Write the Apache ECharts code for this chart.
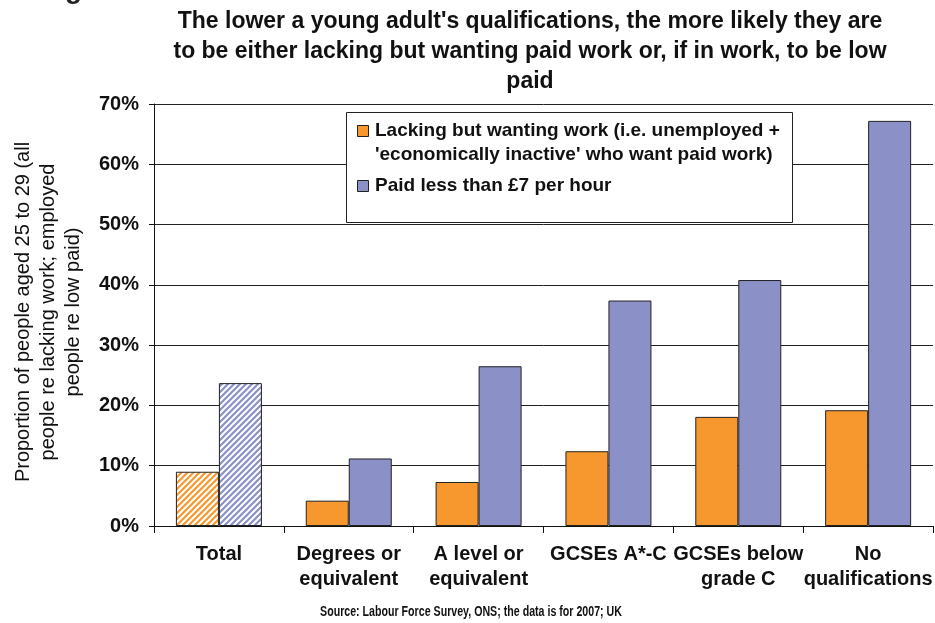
<!DOCTYPE html>
<html>
<head>
<meta charset="utf-8">
<script src="https://cdn.jsdelivr.net/npm/echarts@6/dist/echarts.min.js"></script>
<style>
  html, body { margin: 0; padding: 0; background: #fff; }
  #chart { width: 935px; height: 623px; }
</style>
</head>
<body>
<div id="chart"></div>
<script>
const categories = [
  'Total',
  'Degrees or\nequivalent',
  'A level or\nequivalent',
  'GCSEs A*-C',
  'GCSEs below\ngrade C',
  'No\nqualifications',
];
const lackingWork = [0.090, 0.042, 0.073, 0.124, 0.181, 0.192];
const lowPaid = [0.237, 0.112, 0.265, 0.374, 0.408, 0.672];
const seriesNames = [
  "Lacking but wanting work (i.e. unemployed +\n'economically inactive' who want paid work)",
  'Paid less than £7 per hour',
];
const yTicks = [0, 0.1, 0.2, 0.3, 0.4, 0.5, 0.6, 0.7];

const ORANGE = '#F7982F';
const BLUE = '#8B90C6';
const FONT = 'Liberation Sans, Arial, sans-serif';

// diagonal hatch used for the "Total" bars
function hatch(color) {
  const n = 6;
  const c = document.createElement('canvas');
  c.width = n;
  c.height = n;
  const ctx = c.getContext('2d');
  ctx.fillStyle = '#fff';
  ctx.fillRect(0, 0, n, n);
  ctx.strokeStyle = color;
  ctx.lineWidth = 2.2;
  ctx.beginPath();
  ctx.moveTo(0, n); ctx.lineTo(n, 0);
  ctx.moveTo(-1, 1); ctx.lineTo(1, -1);
  ctx.moveTo(n - 1, n + 1); ctx.lineTo(n + 1, n - 1);
  ctx.stroke();
  return { image: c, repeat: 'repeat' };
}

function toData(values, color) {
  return values.map((v, i) => ({
    value: v,
    itemStyle: { color: i === 0 ? hatch(color) : color },
  }));
}

const chart = echarts.init(document.getElementById('chart'));

const legendItems = [];
[ORANGE, BLUE].forEach((col, i) => {
  const y = i === 0 ? 125 : 180;
  legendItems.push({
    type: 'rect',
    shape: { x: 357.5, y: y + 0.5, width: 11, height: 11 },
    style: { fill: col, stroke: '#222', lineWidth: 1 },
    z: 101,
  });
  legendItems.push({
    type: 'text',
    x: 375,
    y: y - 6,
    style: {
      text: seriesNames[i],
      font: 'bold 19px ' + FONT,
      fill: '#111',
      lineHeight: 24,
      verticalAlign: 'top',
    },
    z: 101,
  });
});

chart.setOption({
  backgroundColor: '#fff',
  animation: false,
  grid: { left: 154, width: 786, top: 104, bottom: 97, containLabel: false },
  xAxis: {
    type: 'category',
    data: categories,
    axisLine: { show: true, lineStyle: { color: '#111', width: 1 } },
    axisTick: { show: true, length: 7, lineStyle: { color: '#111' } },
    axisLabel: {
      interval: 0,
      margin: 16,
      fontFamily: FONT,
      fontWeight: 'bold',
      fontSize: 20,
      lineHeight: 25,
      color: '#111',
    },
  },
  yAxis: {
    type: 'value',
    min: yTicks[0],
    max: yTicks[yTicks.length - 1],
    interval: 0.1,
    axisLine: { show: true, lineStyle: { color: '#111', width: 1 } },
    axisTick: { show: true, length: 5, lineStyle: { color: '#111' } },
    axisLabel: {
      margin: 15,
      fontFamily: FONT,
      fontWeight: 'bold',
      fontSize: 20,
      color: '#111',
      formatter: v => Math.round(v * 100) + '%',
    },
    splitLine: { show: true, lineStyle: { color: '#222', width: 1 } },
  },
  series: [
    {
      name: seriesNames[0],
      type: 'bar',
      data: toData(lackingWork, ORANGE),
      barWidth: 43,
      barGap: '0%',
      itemStyle: { borderColor: '#222', borderWidth: 1 },
    },
    {
      name: seriesNames[1],
      type: 'bar',
      data: toData(lowPaid, BLUE),
      barWidth: 43,
      barGap: '0%',
      itemStyle: { borderColor: '#222', borderWidth: 1 },
    },
  ],
  graphic: [
    {
      type: 'text',
      x: 40,
      y: 4,
      style: { text: 'Figure', font: 'bold 28px ' + FONT, fill: '#222', verticalAlign: 'bottom' },
    },
    {
      type: 'text',
      x: 530,
      y: 7,
      style: {
        text: "The lower a young adult's qualifications, the more likely they are\nto be either lacking but wanting paid work or, if in work, to be low\npaid",
        font: 'bold 23px ' + FONT,
        fill: '#111',
        align: 'center',
        verticalAlign: 'top',
        lineHeight: 30,
      },
    },
    {
      type: 'text',
      x: 48,
      y: 312,
      rotation: Math.PI / 2,
      style: {
        text: 'Proportion of people aged 25 to 29 (all\npeople re lacking work; employed\npeople re low paid)',
        font: '20px ' + FONT,
        fill: '#111',
        align: 'center',
        verticalAlign: 'middle',
        lineHeight: 25,
      },
    },
    {
      type: 'text',
      x: 471,
      y: 612,
      scaleX: 0.76,
      style: {
        text: 'Source: Labour Force Survey, ONS; the data is for 2007; UK',
        font: 'bold 14px ' + FONT,
        fill: '#111',
        align: 'center',
        verticalAlign: 'middle',
      },
    },
    {
      type: 'rect',
      shape: { x: 346.5, y: 112.5, width: 446, height: 110 },
      style: { fill: '#fff', stroke: '#222', lineWidth: 1 },
      z: 100,
    },
    ...legendItems,
  ],
});
</script>
</body>
</html>
